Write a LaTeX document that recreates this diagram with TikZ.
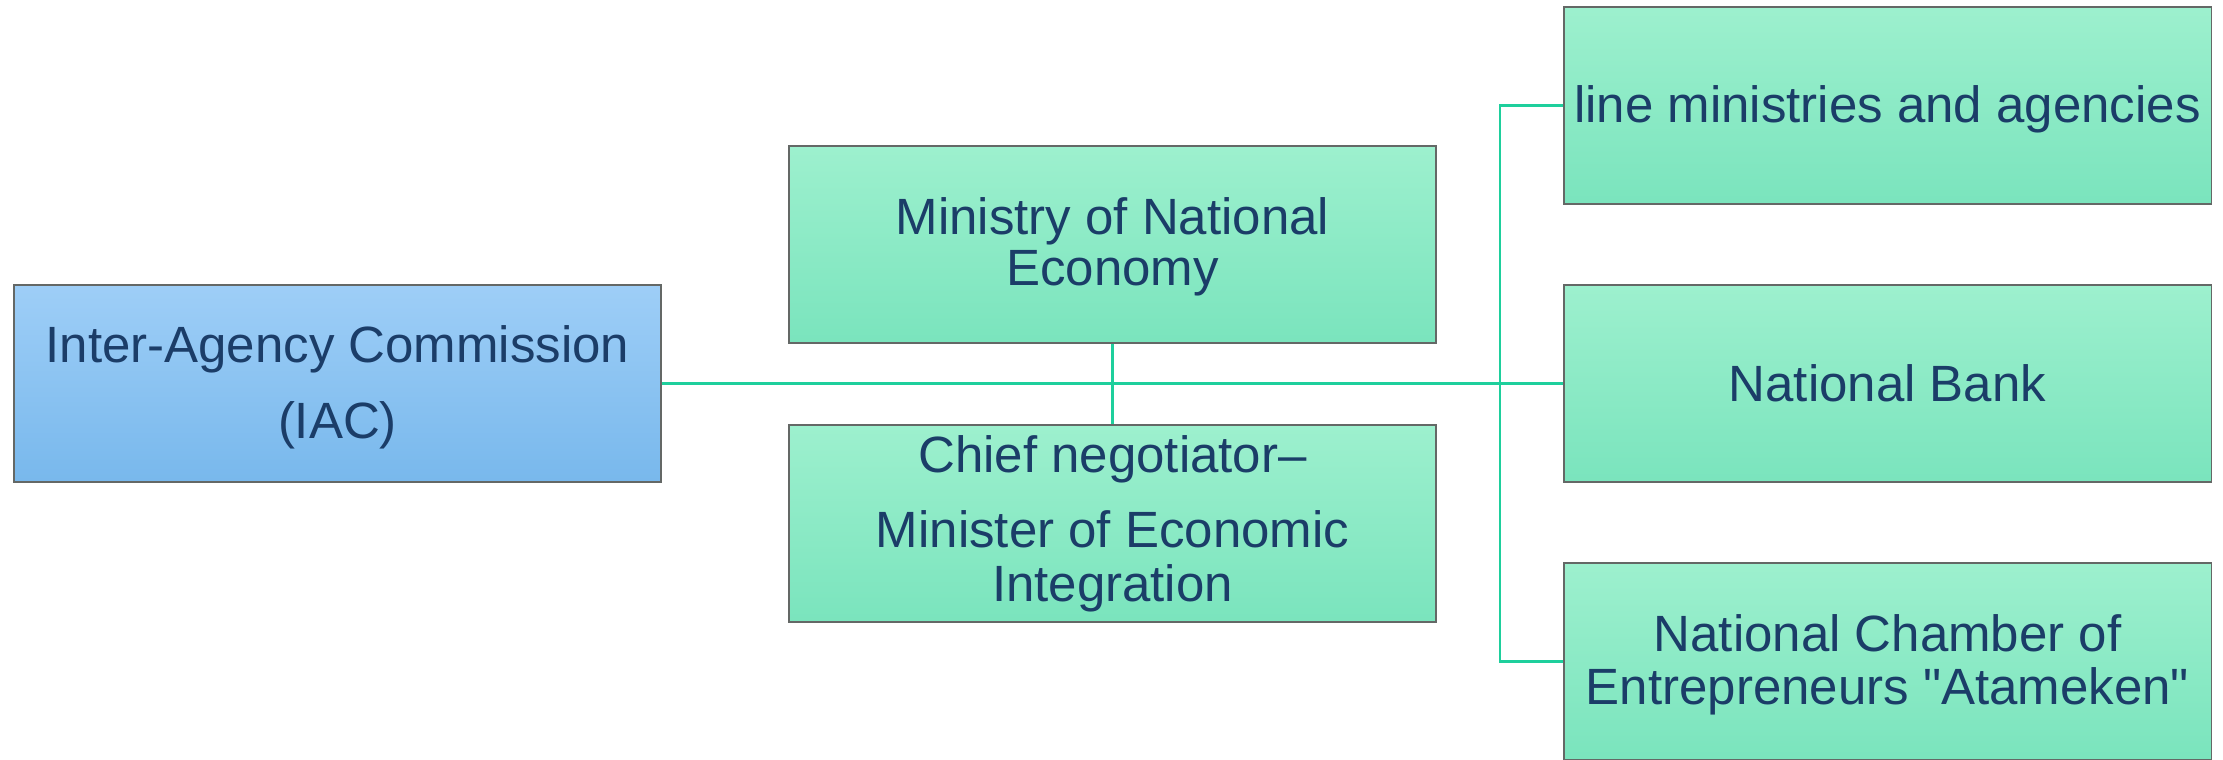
\documentclass[tikz,border=0pt]{standalone}
\usepackage{fontspec}
\setmainfont{Liberation Sans}
\definecolor{gtop}{HTML}{9DF0CE}
\definecolor{gbot}{HTML}{7AE4BD}
\definecolor{btop}{HTML}{9ECEF7}
\definecolor{bbot}{HTML}{78B8EC}
\definecolor{edge}{HTML}{646866}
\definecolor{ink}{HTML}{1B3D68}
\definecolor{link}{HTML}{1ECF9C}
\newcommand\straightquote{\XeTeXglyph\XeTeXcharglyph"22\relax}
\newcommand\boxlines[2]{\vtop{\baselineskip=#1\lineskiplimit=-100pt\lineskip=0pt\halign{\hfil##\hfil\cr#2\crcr}}}
\tikzset{
  orgbox/.style={draw=edge, line width=0.4pt, minimum width=6.47cm, minimum height=1.97cm, inner sep=0pt, shading=axis, shading angle=0},
  greenbox/.style={orgbox, top color=gtop, bottom color=gbot},
  bluebox/.style={orgbox, top color=btop, bottom color=bbot},
  label text/.style={anchor=base, inner sep=0pt, text=ink, font=\fontsize{14.5pt}{14.5pt}\selectfont},
  mainlink/.style={draw=link, line width=0.95pt},
  sublink/.style={draw=link, line width=0.65pt},
}
\begin{document}
\begin{tikzpicture}[x=0.01cm, y=-0.01cm]
\useasboundingbox (0,0) rectangle (2223,759);
% boxes
\node[bluebox]  (iac)   at (337.5,383.5) {};
\node[greenbox] (ne)    at (1112.5,244.5) {};
\node[greenbox] (chief) at (1112.5,523.5) {};
\node[greenbox] (lm)    at (1887.5,105.5) {};
\node[greenbox] (nb)    at (1887.5,383.5) {};
\node[greenbox] (at)    at (1887.5,661.5) {};
% connectors
\coordinate (bus) at (1500,383.5);
\draw[sublink] (ne.south) -- (chief.north);
\draw[sublink] (lm.west) -| (bus) |- (at.west);
\draw[mainlink] (iac.east) -- (nb.west);
% texts
\node[label text] (iact) at (337.5,362) {\boxlines{0.76cm}{Inter-Agency Commission\cr (IAC)}};
\node[label text] (net) at (1112.5,234) {\boxlines{0.51cm}{Ministry of National\cr Economy}};
\node[label text] (chieft) at (1112.5,472) {\boxlines{0.54cm}{Chief negotiator–\cr\noalign{\vskip0.21cm} Minister of Economic\cr Integration}};
\node[label text] (lmt) at (1887.5,122) {line ministries and agencies};
\node[label text] (nbt) at (1887.5,401) {National Bank};
\node[label text] (att) at (1887.5,651) {\boxlines{0.53cm}{National Chamber of\cr Entrepreneurs \straightquote Atameken\straightquote}};
\end{tikzpicture}
\end{document}
